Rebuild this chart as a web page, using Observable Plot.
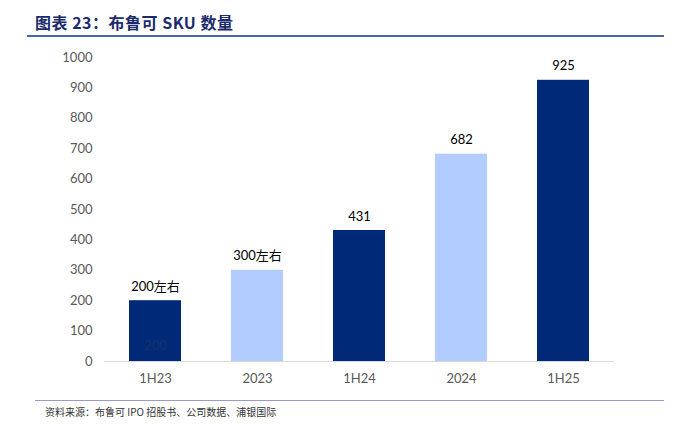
<!DOCTYPE html>
<html><head><meta charset="utf-8">
<script src="https://cdn.jsdelivr.net/npm/d3@7"></script>
<script src="https://cdn.jsdelivr.net/npm/@observablehq/plot@0.6"></script>
<style>
body{margin:0;background:#fff;width:697px;height:424px;overflow:hidden;position:relative;font-family:Lato,"Noto Sans CJK SC",sans-serif;}
#title{position:absolute;left:35px;top:10px;font-size:16px;font-weight:bold;color:#1a2a6c;font-family:"Noto Sans CJK SC",sans-serif;letter-spacing:0.5px;}
#tline{position:absolute;left:27px;top:35px;width:637px;height:2px;background:#4a66a8;}
#chart{position:absolute;left:0;top:40px;}
#bline{position:absolute;left:35px;top:400px;width:629px;height:1px;background:#9a9ac8;}
#source{position:absolute;left:45px;top:404px;font-size:10px;color:#333;font-family:"Noto Sans CJK SC",sans-serif;}
</style></head>
<body>
<div id="title">图表 23：布鲁可 SKU 数量</div>
<div id="tline"></div>
<div id="chart"></div>
<div id="bline"></div>
<div id="source">资料来源：布鲁可 IPO 招股书、公司数据、浦银国际</div>
<script>
const categories = ["1H23","2023","1H24","2024","1H25"];
const values = [200, 300, 431, 682, 925];
const labels = ["200左右","300左右","431","682","925"];
const kinds = ["half","year","half","year","half"];
const yTicks = [0,100,200,300,400,500,600,700,800,900,1000];

const data = categories.map((c,i)=>({cat:c, value:values[i], label:labels[i], kind:kinds[i]}));

const chart = Plot.plot({
  width: 697,
  height: 360,
  marginLeft: 104,
  marginRight: 83,
  marginTop: 17,
  marginBottom: 39,
  style: {fontFamily: 'Lato, "Noto Sans CJK SC", sans-serif', fontSize: "13px", background: "transparent"},
  x: {domain: categories, paddingInner: 0.49, paddingOuter: 0.245, label: null},
  y: {domain: [0, 1000], label: null},
  color: {domain: ["half","year"], range: ["#002a78","#b3ccff"]},
  marks: [
    Plot.axisY({ticks: yTicks, tickFormat: d => String(d), tickSize: 0, tickPadding: 12, color: "#595959", fontSize: 13}),
    Plot.axisX({tickSize: 0, tickPadding: 12, color: "#595959", fontSize: 13}),
    Plot.barY(data, {x: "cat", y: "value", fill: "kind"}),
    Plot.ruleY([0], {stroke: "#d9d9d9", strokeWidth: 1}),
    Plot.text(data, {x: "cat", y: "value", text: "label", dy: -14, fill: "#000", fontSize: 13}),
    Plot.text(data.slice(0,1), {x: "cat", y: 0, text: d => String(d.value), dy: -16, fill: "#17306a", fontSize: 13})
  ]
});
document.getElementById("chart").appendChild(chart);
</script>
</body></html>
